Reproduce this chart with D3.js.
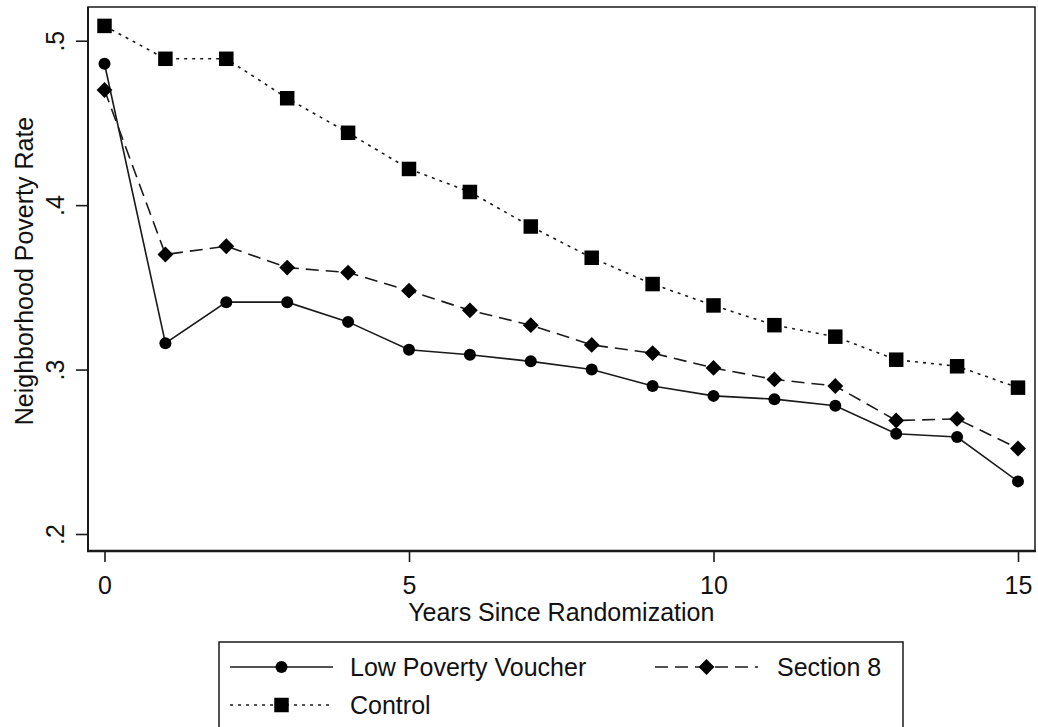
<!DOCTYPE html>
<html>
<head>
<meta charset="utf-8">
<script src="https://cdn.jsdelivr.net/npm/d3@7"></script>
<style>
  html, body { margin: 0; padding: 0; background: #fff; }
  svg { display: block; }
  text { font-family: "Liberation Sans", Arial, sans-serif; fill: #111; }
</style>
</head>
<body>
<svg id="chart" width="1038" height="727"></svg>
<script>
// Years since random assignment
const years = [0, 1, 2, 3, 4, 5, 6, 7, 8, 9, 10, 11, 12, 13, 14, 15];

// Mean neighborhood poverty rate by group
const lowPovertyVoucher = [0.486, 0.316, 0.341, 0.341, 0.329, 0.312, 0.309, 0.305, 0.300, 0.290, 0.284, 0.282, 0.278, 0.261, 0.259, 0.232];
const section8          = [0.470, 0.370, 0.375, 0.362, 0.359, 0.348, 0.336, 0.327, 0.315, 0.310, 0.301, 0.294, 0.290, 0.269, 0.270, 0.252];
const control           = [0.509, 0.489, 0.489, 0.465, 0.444, 0.422, 0.408, 0.387, 0.368, 0.352, 0.339, 0.327, 0.320, 0.306, 0.302, 0.289];

// Axis ticks
const xTicks = [0, 5, 10, 15];
const yTicks = [0.2, 0.3, 0.4, 0.5];
const yTickLabels = [".2", ".3", ".4", ".5"];

const seriesNames = ["Low Poverty Voucher", "Section 8", "Control"];

const svg = d3.select("#chart");

// Plot region
const frame = { left: 88, top: 7, right: 1035, bottom: 551 };

const x = d3.scaleLinear().domain([0, 15]).range([104.5, 1018]);
const y = d3.scaleLinear().domain([0.2, 0.5]).range([534, 40.7]);

const ink = "#1a1a1a";

// Frame (top and right edges)
svg.append("rect")
  .attr("x", frame.left).attr("y", frame.top)
  .attr("width", frame.right - frame.left).attr("height", frame.bottom - frame.top)
  .attr("fill", "none").attr("stroke", ink).attr("stroke-width", 1.5);

// Axes
const xAxis = d3.axisBottom(x).tickValues(xTicks).tickSize(11).tickPadding(4).tickFormat(d3.format("d"));
const yAxis = d3.axisLeft(y).tickValues(yTicks).tickSize(12).tickPadding(0)
  .tickFormat((d, i) => yTickLabels[i]);

const gx = svg.append("g").attr("transform", `translate(0,${frame.bottom})`).call(xAxis);
gx.select(".domain").remove();
svg.append("line")
  .attr("x1", frame.left - 1).attr("x2", frame.right + 1)
  .attr("y1", frame.bottom).attr("y2", frame.bottom)
  .attr("stroke", ink).attr("stroke-width", 2.6);
gx.selectAll(".tick line").attr("stroke", ink).attr("stroke-width", 1.6);
gx.selectAll(".tick text")
  .attr("font-size", 25).attr("fill", ink)
  .attr("dy", null)
  .attr("y", 43);

const gy = svg.append("g").attr("transform", `translate(${frame.left},0)`).call(yAxis);
gy.select(".domain").remove();
svg.append("line")
  .attr("x1", frame.left).attr("x2", frame.left)
  .attr("y1", frame.top).attr("y2", frame.bottom)
  .attr("stroke", ink).attr("stroke-width", 2);
gy.selectAll(".tick line").attr("stroke", ink).attr("stroke-width", 1.6);
gy.selectAll(".tick text")
  .attr("font-size", 25).attr("fill", ink)
  .attr("x", null).attr("dy", null)
  .attr("text-anchor", "middle")
  .attr("transform", "translate(-24,0) rotate(-90)");

// Axis titles
svg.append("text")
  .attr("text-anchor", "middle")
  .attr("font-size", 25)
  .attr("x", (x(0) + x(15)) / 2)
  .attr("y", 621)
  .text("Years Since Randomization");

svg.append("text")
  .attr("text-anchor", "middle")
  .attr("font-size", 25)
  .attr("transform", "translate(33,271) rotate(-90)")
  .text("Neighborhood Poverty Rate");

// Series styling
const styles = [
  { name: seriesNames[0], values: lowPovertyVoucher, dash: null, marker: "circle" },
  { name: seriesNames[1], values: section8, dash: "13,7", marker: "diamond" },
  { name: seriesNames[2], values: control, dash: "3,5", marker: "square" }
];

const symbolFor = {
  circle: d3.symbol().type(d3.symbolCircle).size(Math.PI * 6 * 6),
  diamond: d3.symbol().type(d3.symbolSquare).size(11.2 * 11.2),
  square: d3.symbol().type(d3.symbolSquare).size(14.5 * 14.5)
};
const rotateFor = { circle: 0, diamond: 45, square: 0 };

const line = d3.line().x(d => x(d.year)).y(d => y(d.value));

const plot = svg.append("g");
styles.forEach(s => {
  const pts = years.map((yr, i) => ({ year: yr, value: s.values[i] }));
  plot.append("path")
    .datum(pts)
    .attr("d", line)
    .attr("fill", "none")
    .attr("stroke", ink)
    .attr("stroke-width", 1.6)
    .attr("stroke-dasharray", s.dash);
  plot.selectAll(null)
    .data(pts)
    .enter().append("path")
    .attr("d", symbolFor[s.marker])
    .attr("transform", d => `translate(${x(d.year)},${y(d.value)}) rotate(${rotateFor[s.marker]})`)
    .attr("fill", "#000");
});

// Legend
const legend = svg.append("g");
legend.append("rect")
  .attr("x", 219).attr("y", 642)
  .attr("width", 903 - 219).attr("height", 120)
  .attr("fill", "#fff").attr("stroke", ink).attr("stroke-width", 1.5);

const legendItems = [
  { s: styles[0], kx: 230, ky: 667, tx: 350 },
  { s: styles[1], kx: 655, ky: 667, tx: 777 },
  { s: styles[2], kx: 230, ky: 705, tx: 350 }
];
const keyW = 103;
legendItems.forEach(it => {
  legend.append("line")
    .attr("x1", it.kx).attr("x2", it.kx + keyW)
    .attr("y1", it.ky).attr("y2", it.ky)
    .attr("stroke", ink).attr("stroke-width", 1.6)
    .attr("stroke-dasharray", it.s.dash);
  legend.append("path")
    .attr("d", symbolFor[it.s.marker])
    .attr("transform", `translate(${it.kx + keyW / 2},${it.ky}) rotate(${rotateFor[it.s.marker]})`)
    .attr("fill", "#000");
  legend.append("text")
    .attr("font-size", 25)
    .attr("x", it.tx)
    .attr("y", it.ky + 9)
    .text(it.s.name);
});
</script>
</body>
</html>
